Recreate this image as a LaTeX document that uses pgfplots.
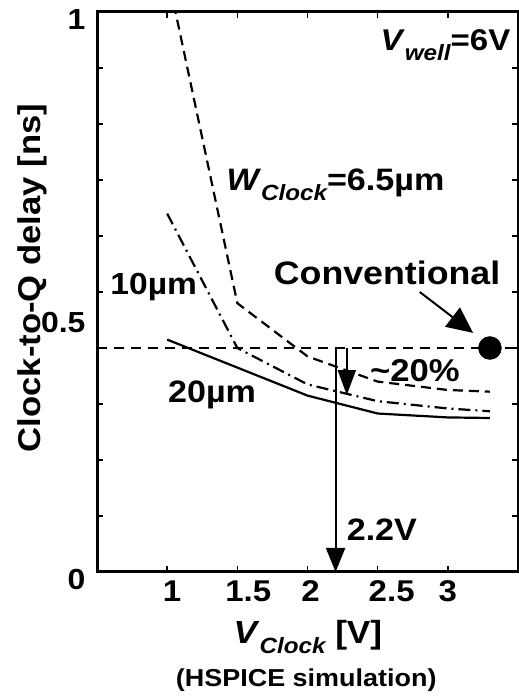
\documentclass[border=0pt]{standalone}
\usepackage{fontspec}
\setmainfont{Liberation Sans}[FakeStretch=1.1]
\usepackage{pgfplots}
\pgfplotsset{compat=1.18}
\usetikzlibrary{arrows.meta}
\newcommand\fs[1]{\fontsize{#1bp}{#1bp}\selectfont}
\newcommand\sub[1]{\raisebox{-0.32em}{\fs{22}\itshape #1}}

\begin{document}
\begin{tikzpicture}[x=1bp,y=1bp]
\path[use as bounding box] (0,0) rectangle (519,700);
\begin{axis}[
  at={(97bp,128bp)}, anchor=south west,
  scale only axis, width=421bp, height=560bp,
  xmin=0.5, xmax=3.5, ymin=0, ymax=1,
  xtick={1,1.5,2,2.5,3},
  xticklabels={\hspace*{10bp}1,\hspace*{22bp}1.5,\hspace*{6bp}2,\hspace*{28bp}2.5,3},
  ytick={0,0.1,0.2,0.3,0.4,0.5,0.6,0.7,0.8,0.9,1},
  yticklabels={0,,,,,{\smash{\raisebox{-33bp}{0.5}}\hspace{-16bp}},,,,,1},
  axis line style={line width=3bp},
  major tick style={line width=1.5bp, black},
  major tick length=6bp,
  tick align=inside,
  xticklabel style={font=\fs{30}\bfseries, yshift=-5bp},
  yticklabel style={font=\fs{29}\bfseries, xshift=-8bp, yshift=-8bp},
  xlabel={\textit{V}\sub{Clock} [V]},
  ylabel={Clock-to-Q delay [ns]},
  xlabel style={at={(rel axis cs:0.501,-0.116)}, anchor=center, font=\fs{32}\bfseries},
  ylabel style={at={(rel axis cs:-0.154,0.525)}, anchor=center, font=\fs{31.5}\bfseries},
  clip mode=individual,
]
% W_Clock = 6.5 um
\addplot[black, line width=2.2bp, dash pattern=on 10bp off 6bp]
  coordinates {(1,1.07)(1.5,0.48)(2,0.385)(2.5,0.34)(3,0.325)(3.3,0.322)};
% W_Clock = 10 um
\addplot[black, line width=2.2bp, dash pattern=on 12bp off 5bp on 2bp off 5bp]
  coordinates {(1,0.64)(1.5,0.40)(2,0.335)(2.5,0.305)(3,0.292)(3.3,0.287)};
% W_Clock = 20 um
\addplot[black, line width=2.2bp]
  coordinates {(1,0.415)(1.5,0.365)(2,0.315)(2.5,0.283)(3,0.276)(3.3,0.275)};
% conventional delay level
\addplot[black, line width=2bp, dash pattern=on 10bp off 7bp]
  coordinates {(0.5,0.4)(3.5,0.4)};
\addplot[only marks, mark=*, mark size=11.5bp, black]
  coordinates {(3.3,0.4)};
% clock voltage giving the same delay
\addplot[black, line width=2bp, -{Triangle[length=24bp,width=19bp]}]
  coordinates {(2.2,0.4)(2.2,0)};

\draw[line width=2bp, -{Triangle[length=25bp,width=18bp]}]
  (axis cs:2.28,0.40) -- (axis cs:2.28,0.316);
\draw[line width=2bp, -{Triangle[length=26bp,width=24bp]}]
  (axis cs:2.8,0.50) -- (axis cs:3.18,0.427);

\node[anchor=east, font=\fs{30}\bfseries] at (axis cs:3.47,0.941)
  {\textit{V}\sub{well}=6V};
\node[anchor=west, font=\fs{31}\bfseries] at (axis cs:1.398,0.691)
  {\textit{W}\sub{Clock}=6.5µm};
\node[anchor=west, font=\fs{30.5}\bfseries] at (axis cs:0.571,0.509) {10µm};
\node[font=\fs{31}\bfseries] at (axis cs:1.32,0.316) {20µm};
\node[font=\fs{32.5}\bfseries] at (axis cs:2.567,0.534) {Conventional};
\node[font=\fs{31.5}\bfseries] at (axis cs:2.766,0.36) {\textasciitilde 20\%};
\node[font=\fs{31}\bfseries] at (axis cs:2.53,0.075) {2.2V};
\node[font=\fs{24.5}\bfseries] at (rel axis cs:0.497,-0.193) {(HSPICE simulation)};
\end{axis}
\end{tikzpicture}
\end{document}
